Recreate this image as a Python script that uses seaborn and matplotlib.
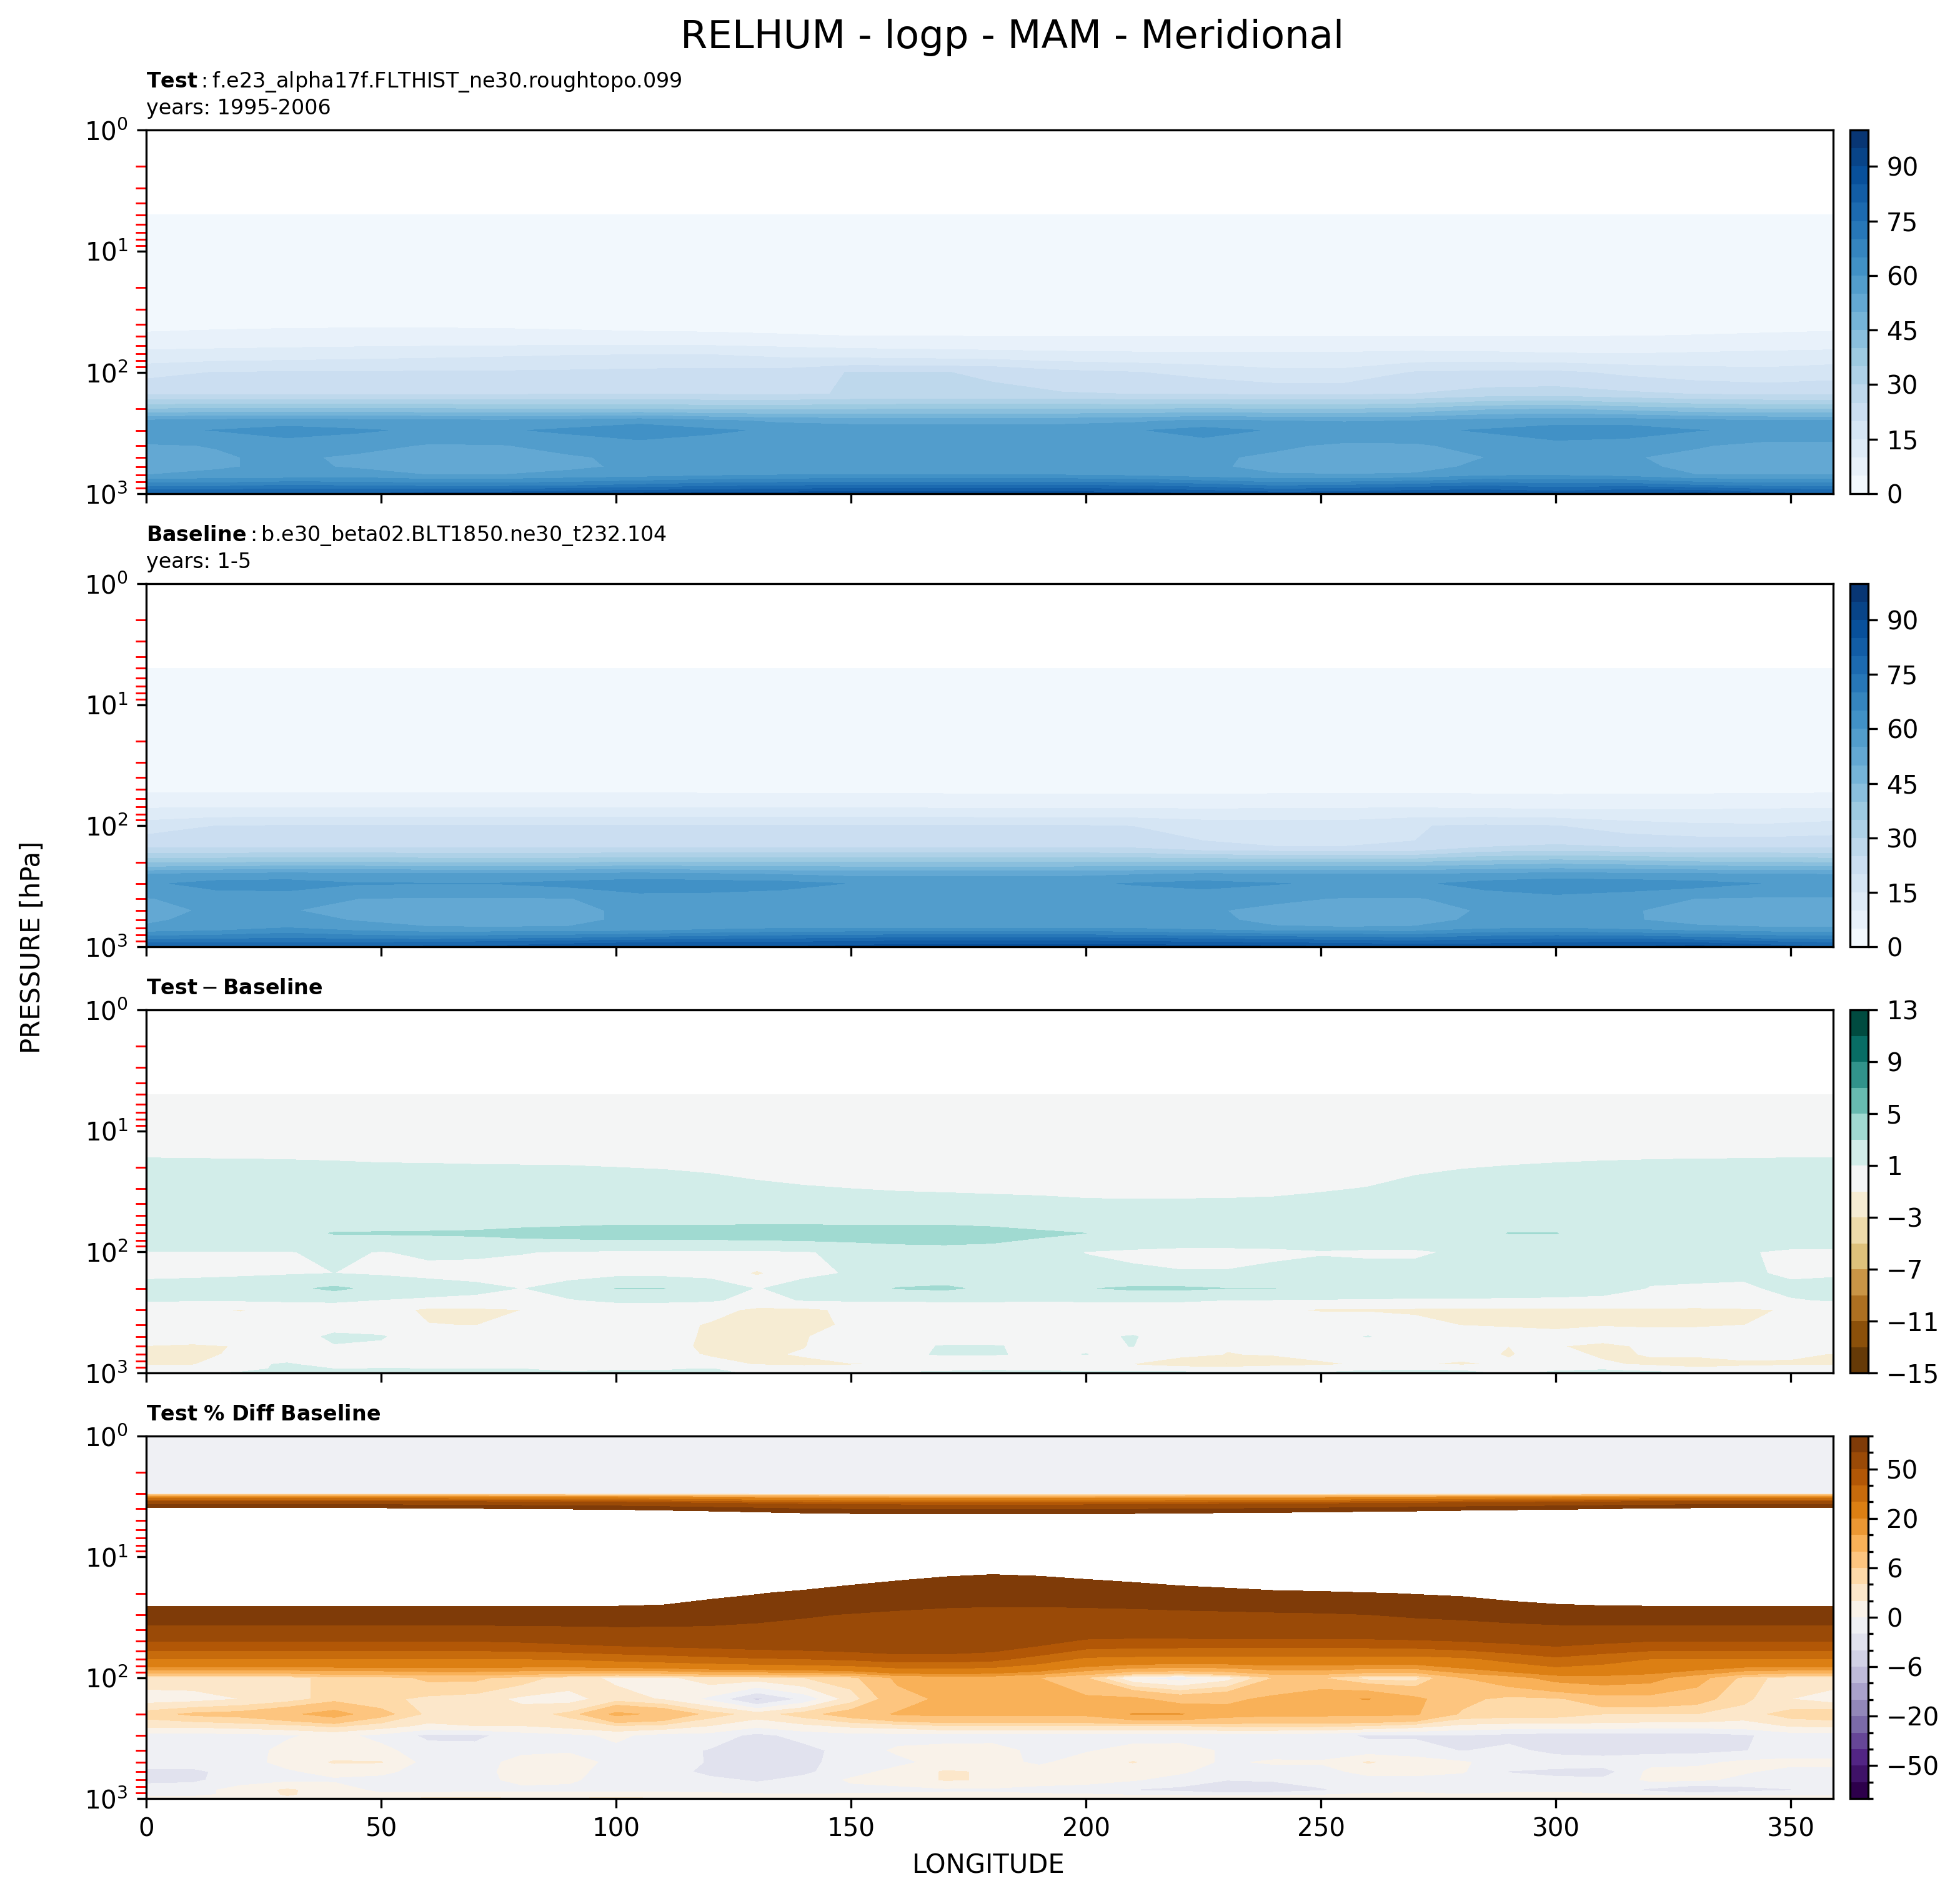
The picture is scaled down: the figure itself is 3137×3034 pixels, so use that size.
import numpy as np
import matplotlib
matplotlib.use("Agg")
import matplotlib.pyplot as plt
import matplotlib.colors as mcolors
from matplotlib.ticker import LogLocator, NullFormatter
import seaborn as sns

# pressure levels [hPa], the upper ones are empty in the first three panels
plev_full = [1, 2, 3, 5, 7, 10, 20, 30, 50, 70, 100, 150, 200, 250, 300, 400, 500, 600, 700, 850, 925, 1000]
plev = [5, 7, 10, 20, 30, 50, 70, 100, 150, 200, 250, 300, 400, 500, 600, 700, 850, 925, 1000]

lon_coarse = [0, 15, 30, 45, 60, 75, 90, 105, 120, 135, 150, 165, 180, 195, 210, 225, 240, 255, 270, 285, 300, 315, 330, 345, 359]
lon_fine = [0, 10, 20, 30, 40, 50, 60, 70, 80, 90, 100, 110, 120, 130, 140, 150, 160, 170, 180, 190, 200, 210, 220, 230, 240, 250, 260, 270, 280, 290, 300, 310, 320, 330, 340, 350, 359]

# relative humidity (top to bottom)
test_rh = [
    [1, 1, 1, 1, 1, 1, 1, 1, 1, 1, 1, 1, 1, 1, 1, 1, 1, 1, 1, 1, 1, 1, 1, 1, 1],
    [1.2, 1.2, 1.2, 1.2, 1.2, 1.2, 1.2, 1.2, 1.2, 1.2, 1.2, 1.2, 1.2, 1.2, 1.2, 1.2, 1.2, 1.2, 1.2, 1.2, 1.2, 1.2, 1.2, 1.2, 1.2],
    [1.5, 1.5, 1.5, 1.5, 1.5, 1.5, 1.5, 1.5, 1.5, 1.5, 1.5, 1.5, 1.5, 1.5, 1.5, 1.5, 1.5, 1.5, 1.5, 1.5, 1.5, 1.5, 1.5, 1.5, 1.5],
    [2.5, 2.5, 2.5, 2.5, 2.5, 2.5, 2.5, 2.5, 2.5, 2.5, 2.5, 2.5, 2.5, 2.5, 2.5, 2.5, 2.5, 2.5, 2.5, 2.5, 2.5, 2.5, 2.5, 2.5, 2.5],
    [3.2, 3.2, 3.2, 3.2, 3.2, 3.2, 3.2, 3.2, 3.2, 3.2, 3.2, 3.2, 3.2, 3.2, 3.2, 3.2, 3.2, 3.2, 3.2, 3.2, 3.2, 3.2, 3.2, 3.2, 3.2],
    [5.4, 5.7, 5.9, 6, 6, 5.9, 5.7, 5.5, 5.4, 5.2, 5.0, 4.95, 4.9, 4.85, 4.85, 4.85, 4.85, 4.85, 4.9, 4.9, 4.9, 4.95, 5.1, 5.3, 5.5],
    [11.5, 12, 12.5, 13, 13.5, 14, 14.5, 14.7, 14.7, 13.5, 12.5, 12, 11.5, 11, 10.7, 10.6, 10.6, 10.6, 11, 10.8, 10.3, 10, 10.5, 11, 11.5],
    [18.5, 20.2, 20.4, 20.5, 20.6, 20.7, 21, 21.5, 21.8, 22, 25.3, 25.3, 24.6, 21.5, 20.3, 18.5, 16.5, 16.5, 20.4, 21, 21, 19, 17.5, 16.8, 18],
    [24.3, 24.4, 24.5, 24.4, 24.5, 24.5, 24.6, 24.6, 24.6, 24.3, 25.3, 25.6, 25.6, 25.4, 24.9, 24.7, 24.2, 24.2, 25, 27, 27.5, 26, 24.8, 24, 24],
    [40, 41, 41, 41, 40.5, 40, 39.5, 40, 39, 39, 39.5, 40, 40, 40, 40, 40.5, 40, 40, 41, 44, 45, 43, 41, 40, 40],
    [56, 57, 57.5, 57, 56.5, 56, 57, 58.5, 56, 54, 53, 53, 53, 53, 54, 56, 55, 54.5, 55, 57, 58, 58, 56.5, 55.5, 55.5],
    [59, 60.2, 62, 60.6, 59.2, 59.3, 61, 63, 61, 59, 58.5, 58.5, 58.5, 58.5, 59.5, 62, 59.5, 59, 59, 60.5, 62.5, 62.5, 60.2, 59, 59],
    [54.5, 55.2, 57.7, 57, 54.5, 54.7, 56.5, 58, 57, 57, 57, 57, 57, 57, 57, 57.5, 56, 54, 54.2, 57, 58.5, 57.5, 55.5, 53.3, 53.5],
    [53, 54.5, 56, 54, 53, 53, 54.5, 56, 56, 56, 56, 56, 56, 56, 56, 56, 54, 53, 53, 55, 56.5, 55.5, 53.5, 53, 53],
    [53, 54.5, 56, 54.5, 53, 53, 54, 56, 56, 56, 56, 56, 56, 56, 56, 56, 53.5, 53, 53.5, 56, 57, 56, 54, 53, 53],
    [55, 56, 56, 57, 55, 55, 56.5, 57.5, 59, 60, 60, 60, 60, 60, 59, 57, 55.5, 55.2, 55.5, 59, 59.5, 58, 55, 55, 55],
    [68, 68, 70, 69, 68, 68, 69, 71, 73, 74, 75, 75, 75, 75, 74, 72, 69, 70, 72, 74, 72, 73, 70, 68, 68],
    [75, 75, 76, 76, 76, 76, 77, 79, 80, 81, 82, 82, 82, 82, 81, 79, 76, 77, 79, 80, 78, 80, 79, 76, 75],
    [78, 78, 79, 80, 82, 83, 85, 86, 88, 88, 89, 89, 89, 89, 87, 85, 83, 83, 85, 84, 83, 84, 87, 82, 78],
]

baseline_rh = [
    [1, 1, 1, 1, 1, 1, 1, 1, 1, 1, 1, 1, 1, 1, 1, 1, 1, 1, 1, 1, 1, 1, 1, 1, 1],
    [1.2, 1.2, 1.2, 1.2, 1.2, 1.2, 1.2, 1.2, 1.2, 1.2, 1.2, 1.2, 1.2, 1.2, 1.2, 1.2, 1.2, 1.2, 1.2, 1.2, 1.2, 1.2, 1.2, 1.2, 1.2],
    [1.4, 1.4, 1.4, 1.4, 1.4, 1.4, 1.4, 1.4, 1.4, 1.4, 1.4, 1.4, 1.4, 1.4, 1.4, 1.4, 1.4, 1.4, 1.4, 1.4, 1.4, 1.4, 1.4, 1.4, 1.4],
    [2, 2, 2, 2, 2, 2, 2, 2, 2, 2, 2, 2, 2, 2, 2, 2, 2, 2, 2, 2, 2, 2, 2, 2, 2],
    [2.5, 2.5, 2.5, 2.5, 2.5, 2.5, 2.5, 2.5, 2.5, 2.5, 2.5, 2.5, 2.5, 2.5, 2.5, 2.5, 2.5, 2.5, 2.5, 2.5, 2.5, 2.5, 2.5, 2.5, 2.5],
    [4, 4, 4, 4, 4, 4, 4, 4, 3.9, 3.9, 3.8, 3.8, 3.7, 3.7, 3.7, 3.7, 3.8, 3.8, 3.8, 3.8, 3.7, 3.8, 3.8, 3.9, 4],
    [9.6, 9.7, 9.8, 9.8, 9.8, 9.8, 9.8, 9.8, 9.8, 9.7, 9.6, 9.5, 9.4, 9.3, 9.3, 9.3, 9.4, 9.6, 9.6, 9.3, 8.9, 8.9, 9.2, 9.5, 9.6],
    [17.5, 20, 20.2, 20.3, 20.3, 20.3, 20.3, 20.3, 20.4, 20.4, 20.4, 20.4, 20.3, 20.3, 19.9, 18, 18, 17.5, 19.8, 20.6, 20.1, 17.5, 16, 15.7, 17],
    [24.3, 24.5, 24.5, 24.5, 24.5, 24.5, 24.5, 24.5, 24.5, 24.5, 24.5, 24.5, 24.5, 24.5, 24.2, 21, 20.1, 20.1, 20.1, 25, 25.8, 25, 24.5, 24.4, 24.4],
    [39, 39.5, 40, 40, 39.5, 39.5, 39.5, 40, 40, 40, 40, 40, 40, 40, 40, 40, 40, 40, 40, 42, 43, 42, 40.5, 40, 39.5],
    [54.8, 56, 56.5, 56, 56, 56, 56, 56.5, 55.5, 54.5, 53.5, 53.5, 53.5, 53.5, 54.5, 55.5, 55, 55, 55, 55.5, 56.5, 56, 55.5, 55, 54.8],
    [59, 62, 62.5, 60.3, 60.2, 60.2, 61.5, 63, 62.5, 62, 59.8, 59, 59, 59, 60.3, 61.8, 60.3, 59, 59, 62, 63.5, 63, 61.8, 59.8, 59],
    [54.7, 57, 57, 55, 54.5, 54.6, 54.8, 58, 58, 57, 57, 57, 57, 57, 57, 56.5, 55.8, 54.7, 54.6, 57, 58.5, 57, 54.9, 54.4, 54.4],
    [54, 55.5, 55.2, 54, 53.5, 53, 54, 56, 56, 56, 56, 56, 56, 56, 56, 55.5, 54, 53, 53, 55.5, 56, 55.3, 54, 53, 53],
    [54.5, 56, 56.5, 54.7, 53, 53, 54, 56, 56, 56, 56, 56, 56, 56, 56, 56, 54, 53, 53.5, 56, 58, 55.5, 53.5, 53, 53],
    [55.5, 57, 60.3, 57, 55.5, 55.3, 55.3, 55.5, 58, 59.5, 59.8, 59.8, 59.8, 59.8, 59.5, 57.5, 55.5, 55.3, 55.5, 59, 60, 58, 56, 55.3, 55.2],
    [68, 69, 70, 69, 68, 69, 70, 72, 73, 74, 75, 76, 76, 76, 75, 74, 73, 72, 71, 73, 74, 74, 72, 69, 68],
    [75, 75, 75, 75, 76, 77, 79, 80, 81, 81, 82, 83, 83, 83, 82, 81, 80, 79, 78, 79, 80, 81, 80, 77, 75],
    [79, 78, 78, 78, 81, 81, 83, 85, 85, 85, 87, 88, 88, 88, 88, 88, 87, 85, 84, 83, 83, 85, 88, 83, 79],
]

# Test - Baseline
diff_rh = [
    [0.3, 0.3, 0.3, 0.3, 0.3, 0.3, 0.3, 0.3, 0.3, 0.3, 0.3, 0.3, 0.3, 0.3, 0.3, 0.3, 0.3, 0.3, 0.3, 0.3, 0.3, 0.3, 0.3, 0.3, 0.3, 0.3, 0.3, 0.3, 0.3, 0.3, 0.3, 0.3, 0.3, 0.3, 0.3, 0.3, 0.3],
    [0.4, 0.4, 0.4, 0.4, 0.4, 0.4, 0.4, 0.4, 0.4, 0.4, 0.4, 0.4, 0.4, 0.4, 0.4, 0.4, 0.4, 0.4, 0.4, 0.4, 0.4, 0.4, 0.4, 0.4, 0.4, 0.4, 0.4, 0.4, 0.4, 0.4, 0.4, 0.4, 0.4, 0.4, 0.4, 0.4, 0.4],
    [0.6, 0.6, 0.6, 0.6, 0.6, 0.6, 0.6, 0.6, 0.6, 0.6, 0.6, 0.6, 0.6, 0.6, 0.6, 0.6, 0.6, 0.6, 0.6, 0.6, 0.6, 0.6, 0.6, 0.6, 0.6, 0.6, 0.6, 0.6, 0.6, 0.6, 0.6, 0.6, 0.6, 0.6, 0.6, 0.6, 0.6],
    [1.2, 1.18, 1.17, 1.15, 1.12, 1.08, 1.07, 1.05, 1.04, 1.03, 1.0, .98, .95, .9, .87, .85, .82, .8, .75, .72, .7, .7, .7, .72, .75, .78, .82, .9, .97, 1.03, 1.08, 1.12, 1.15, 1.17, 1.18, 1.2, 1.2],
    [1.6, 1.6, 1.6, 1.55, 1.5, 1.5, 1.5, 1.45, 1.4, 1.35, 1.3, 1.22, 1.15, 1.08, 1.03, 1.0, .95, .92, .9, .89, .87, .85, .86, .87, .9, .95, 1.02, 1.2, 1.4, 1.5, 1.55, 1.6, 1.6, 1.6, 1.6, 1.6, 1.6],
    [1.5, 1.5, 1.5, 1.5, 1.6, 1.7, 1.7, 1.7, 1.8, 1.9, 2, 2, 2, 2, 1.9, 1.7, 1.6, 1.6, 1.5, 1.4, 1.3, 1.3, 1.3, 1.3, 1.3, 1.4, 1.4, 1.5, 1.5, 1.6, 1.6, 1.6, 1.6, 1.5, 1.5, 1.5, 1.5],
    [1.9, 2, 2.1, 2.3, 3.1, 3.15, 3.2, 3.3, 3.6, 3.8, 4, 4, 4, 4.1, 4.2, 4.3, 4.4, 4.4, 4, 3.4, 3, 2.6, 2.2, 2.2, 2.2, 2.2, 2.2, 2.2, 2.2, 3.05, 3.05, 2.2, 2.2, 2.1, 2, 1.9, 1.9],
    [.95, .95, .95, .95, 1.2, .95, 1.2, 1.2, 1.05, .9, .8, .75, .75, .75, .9, 1.3, 1.8, 2, 2, 1.6, .95, .7, .6, .6, .7, .9, .8, .8, 1.2, 1.6, 1.6, 1.6, 1.5, 1.5, 1.1, .8, .8],
    [.7, .7, .75, .85, 1.0, .8, .6, .5, .5, .5, .5, .5, .5, -1.3, .7, 1.1, 1.7, 1.9, 1.9, 1.8, 1.5, 1.3, 1.1, 1.1, 1.4, 1.5, 1.5, 1.5, 1.7, 1.8, 1.8, 1.6, 1.2, 1.5, 1.2, .8, .8],
    [1.5, 1.7, 2, 2.5, 3.4, 2.4, 1.8, 1.4, .95, 1.6, 3.05, 3.05, 2, .9, 1.6, 2.2, 3.1, 3.3, 2.6, 2.4, 2.9, 3.3, 3.3, 3.02, 3.02, 2.4, 2.2, 2, 2, 1.9, 1.8, 1.5, .95, .7, .8, 1.3, 1.6],
    [1.15, 1.15, 1.2, 1.3, 1.3, .95, .7, .6, .6, .9, 1.3, 1.3, 1.2, .5, 1.1, 1.2, 1.2, 1.2, 1.2, 1.15, 1.2, 1.2, 1.25, 1.0, .95, .9, .85, .8, .8, .75, .7, .65, .6, .4, .5, .9, 1.1],
    [0, -.7, -1.1, -.5, 0, -.3, -1.3, -1.3, -1.0, -.2, 0, 0, -.3, -1.4, -1.4, -.6, -.2, 0, 0, 0, 0, 0, -.2, -.4, -.8, -1.15, -1.15, -1.25, -1.4, -1.3, -1.3, -1.3, -1.3, -1.35, -1.2, -.9, 0],
    [0, 0, -.3, 0, .4, .3, -.95, -1.05, -.3, 0, 0, -.3, -1.2, -1.5, -1.4, -.8, -.2, 0, 0, 0, .2, .2, 0, 0, 0, 0, 0, -.5, -1.05, -1.2, -1.3, -1.1, -1.3, -1.25, -1.02, -.5, 0],
    [0, 0, 0, .2, 1.3, 1.1, .2, 0, 0, 0, 0, -.3, -1.3, -1.4, -1.1, -.3, 0, 0, 0, .1, .7, 1.1, .2, 0, 0, .5, 1.05, .3, 0, -.2, -.5, -.3, 0, 0, 0, .1, .1],
    [-1.05, -1.3, -.9, 0, .9, .8, 0, 0, 0, 0, 0, -.5, -1.3, -1.4, -1.05, -.2, .6, 1.1, 1.1, .7, .8, 1.02, 0, -.9, -.5, 0, 0, 0, 0, -1, -.9, -1.4, -.7, 0, 0, 0, 0],
    [-1.3, -1.3, -.8, 0, 0, 0, 0, 0, 0, 0, 0, -.3, -1.2, -1.2, -.9, -.2, .6, 1.2, 1.1, .8, 1.02, .5, -.4, -1.05, -.9, -.5, 0, 0, -.6, -1.1, -.4, -1.3, -.9, -.3, -.3, -.8, -1.05],
    [-1.2, -1.1, .6, 1.2, .3, 0, 0, -.2, -.3, -.2, 0, -.1, -.3, -1.1, -1.3, -1.1, -1.02, -.7, -.2, 0, -.5, -1.1, -2.5, -3.2, -1.8, -1.3, -.8, -.9, -1.2, -.8, -.2, -.7, -1.3, -3.1, -1.5, -1.2, -1.2],
    [-.3, -.1, .7, 1.2, 1.0, 1.1, 1.05, 1.05, 1.0, .8, .9, .9, 1.05, .5, 0, 0, .2, .6, .8, .7, .6, .6, .6, .5, .5, .5, .8, .8, .8, .2, .8, .9, .5, .2, 0, 0, -.2],
    [.8, .9, 1.1, 1.4, 1.3, 1.3, 1.3, 1.3, 1.2, 1.1, 1.2, 1.2, 1.3, .8, .8, .9, 1.2, 1.3, 1.4, 1.3, 1.3, 1.3, 1.2, 1.1, 1.1, 1.1, 1.3, 1.4, 1.3, .8, 1.2, 1.4, 1.3, 1.1, 1, .8, .8],
]

# Test % Diff Baseline
pct_diff = [
    [-1, -1, -1, -1, -1, -1, -1, -1, -1, -1, -1, -1, -1, -1, -1, -1, -1, -1, -1, -1, -1, -1, -1, -1, -1, -1, -1, -1, -1, -1, -1, -1, -1, -1, -1, -1, -1],
    [-1, -1, -1, -1, -1, -1, -1, -1, -1, -1, -1, -1, -1, -1, -1, -1, -1, -1, -1, -1, -1, -1, -1, -1, -1, -1, -1, -1, -1, -1, -1, -1, -1, -1, -1, -1, -1],
    [-.2, -.2, -.2, -.2, -.2, -.2, -.2, -.2, -.2, -.2, -.2, -.2, -.2, -.2, -.2, -.2, -.2, -.2, -.2, -.2, -.2, -.2, -.2, -.2, -.2, -.2, -.2, -.2, -.2, -.2, -.2, -.2, -.2, -.2, -.2, -.2, -.2],
    [215, 215, 215, 215, 215, 215, 210, 205, 200, 195, 190, 180, 170, 160, 150, 145, 142, 140, 140, 140, 142, 145, 148, 152, 155, 160, 165, 170, 178, 185, 190, 200, 210, 215, 215, 215, 215],
    [300, 300, 300, 300, 300, 300, 300, 300, 300, 290, 280, 260, 240, 220, 200, 180, 160, 150, 145, 150, 160, 170, 180, 190, 200, 210, 220, 240, 260, 280, 300, 300, 300, 300, 300, 300, 300],
    [200, 200, 200, 200, 200, 200, 200, 200, 190, 180, 170, 160, 150, 140, 130, 120, 115, 112, 110, 112, 115, 120, 125, 130, 135, 140, 150, 160, 170, 180, 190, 200, 200, 200, 200, 200, 200],
    [115, 115, 115, 115, 115, 115, 115, 115, 115, 115, 115, 113, 105, 101, 96, 92, 89, 86, 85, 85, 87, 88, 91, 93, 96, 97, 99, 101, 103, 108, 113, 115, 115, 115, 115, 115, 115],
    [88, 88, 88, 88, 88, 88, 88, 88, 88, 88, 88, 87, 85, 81, 77, 74, 71, 69, 68, 68, 68, 69, 70, 71, 72, 73, 75, 78, 80, 83, 85, 87, 88, 88, 88, 88, 88],
    [49.5, 49.5, 49.5, 49.5, 49.5, 49.5, 49.5, 50, 51, 53, 55, 56, 57, 58, 59, 60, 61, 61, 59, 54, 48, 47, 47, 47, 47, 47, 47, 48, 50, 52, 54, 52, 50, 49.5, 49.5, 49.5, 49.5],
    [30, 30, 30, 30, 30, 30, 30, 30, 30, 31, 33, 35, 37, 39, 40, 42, 45, 45, 43, 36, 28, 27, 26, 26, 26, 26, 26, 26, 28, 33, 38, 34, 30, 30, 30, 30, 30],
    [3, 3, 3, 3, 5, 5, 6.5, 6.5, 5, 3, 1.5, 1.5, 3, 3, 4, 5, 11, 12, 12, 10, 6, 0, -1, 1, 6, 6, 3, 3, 10, 13, 17, 18, 17, 12, 5, 3, 3],
    [1, 1.2, 2, 3, 5, 4.5, 3.5, 3, 1.5, 1.2, 3, 1.8, -.5, -4.5, -1.5, 3, 8, 11, 12, 11, 11, 11, 8, 9, 11, 14, 15.2, 11, 7, 5, 5.5, 8, 8, 7, 4.5, 2, 1],
    [5, 6.5, 7, 9, 12, 7, 3.5, 3, 3, 4.5, 11, 9, 5, 3, 5, 7.5, 10.5, 11, 11, 11, 11, 15.3, 15.3, 12, 11, 11, 11, 10.5, 5.5, 5, 5, 4, 4, 4, 3, 5, 5.5],
    [2.5, 2.5, 3, 3.5, 4.5, 3, 1.5, 2, 2, 2.8, 4, 3.5, 2, .5, 1.5, 2.5, 3, 4, 4, 4, 4, 4, 4, 4.5, 4.5, 4.5, 4, 3, 1.5, 1.2, 1.2, 1.2, 1, 1, 1, 2.2, 2.5],
    [-.7, -.7, -.7, -.2, .5, -.5, -2.5, -2.5, -1, -.5, .4, -.7, -.8, -2.6, -1.2, -.8, -.7, -.7, -.7, -.8, -.8, -.8, -.8, -.8, -.9, -1.2, -2.3, -2.3, -2.1, -2.6, -3, -3, -3, -3, -2.3, -1, -1],
    [-1, -1, -.8, .5, .7, .5, -1, -1.2, -.5, -.2, -.5, -1, -2.2, -3, -2.8, -1, .3, .6, .7, -.5, -.2, .7, .8, -.3, -1, -1, -1, -1, -2.1, -1.5, -2.6, -3, -2.6, -2.5, -2.1, -1, -1],
    [-1, -1, -.8, .6, 2.2, 2.1, -.8, -1, .8, .8, -.5, -.8, -2.2, -3.2, -2.6, -1, -.5, .7, .8, -.4, 1, 2.1, .8, -.3, .3, .2, 2.2, .9, .2, -.8, -.8, -.8, -.7, -.5, .4, .5, .5],
    [-2.5, -2.5, -1, -.3, .7, .5, -1, -.7, .8, .7, -1, -1, -2.6, -3.2, -2.4, -.8, .7, 2.2, 1.8, 1, 1, .8, .3, -1, -1, -.8, .7, .8, .2, -2.1, -2.6, -3, .5, .7, .2, -.6, -.5],
    [-2.6, -2.4, -.9, -.5, -.3, -.7, -1, -.7, .6, .3, -.9, -1, -1.5, -2.3, -1.4, .3, .7, 2.2, 1.8, .8, .6, .2, -.8, -1.9, -1.7, -1, -.8, -.8, -1, -1.2, -1.5, -1.5, .4, .4, -.5, -1, -1],
    [-.9, -.8, .8, 2.3, 1, -.5, -.6, -.6, -.6, -.5, -.5, -.5, -.6, -.7, -.7, -.6, -.5, -.4, -.4, -.6, -.8, -2.1, -2.6, -4.2, -3.5, -2.3, -.8, -.8, -2.1, -.7, -.6, -.8, -2.5, -4.1, -2.8, -2.1, -.9],
    [-1, -.8, .8, 2.2, 1.2, .3, .5, .7, .7, .6, .8, .6, .4, .2, .1, .2, .3, .4, .4, .2, .1, -.2, -.4, -.6, -.5, -.2, .3, .6, .2, .5, .5, .3, -.3, -.6, -.4, -.3, -.5],
    [1, 1, 1.2, 1.5, 1.2, 2.2, 2.3, 2.3, 2.2, 2.2, 2.3, 2.2, 1.2, 1, .9, .9, 1, 1.2, 1.2, 1.2, 1.4, 1.5, 1.4, 1.2, 1.2, 1.6, 1.8, 1.6, 1.3, 1.3, 1.6, 1.8, 1.5, 1.2, 1.1, 1, 1],
]

# colour levels of each row of the figure
rh_levels = [0, 5, 10, 15, 20, 25, 30, 35, 40, 45, 50, 55, 60, 65, 70, 75, 80, 85, 90, 95, 100]
rh_ticks = [0, 15, 30, 45, 60, 75, 90]
diff_levels = [-15, -13, -11, -9, -7, -5, -3, -1, 1, 3, 5, 7, 9, 11, 13]
diff_ticks = [-15, -11, -7, -3, 1, 5, 9, 13]
pct_levels = [-100, -75, -50, -40, -30, -20, -15, -10, -6, -4, -2, 0, 2, 4, 6, 10, 15, 20, 30, 40, 50, 75, 100]
pct_ticks = [-50, -20, -6, 0, 6, 20, 50]

sns.set_theme(style="ticks", rc={
    "axes.edgecolor": "black", "axes.linewidth": 0.8, "axes.labelcolor": "black", "text.color": "black",
    "xtick.color": "black", "ytick.color": "black", "xtick.major.size": 3.5, "ytick.major.size": 3.5,
    "xtick.major.width": 0.8, "ytick.major.width": 0.8, "ytick.minor.size": 2, "ytick.minor.width": 0.8,
    "xtick.labelsize": 9.7, "ytick.labelsize": 9.7,
})
plt.rcParams["font.family"] = ["DejaVu Sans"]

W, H = 3137, 3034
fig = plt.figure(figsize=(W / 300, H / 300), dpi=300)


def add_panel(top_px, bottom_px, lons, levs, values, levels, cmap, norm, ticks, title):
    ax = fig.add_axes([234 / W, 1 - bottom_px / H, (2934 - 234) / W, (bottom_px - top_px) / H])
    cax = fig.add_axes([2961 / W, 1 - bottom_px / H, 29 / W, (bottom_px - top_px) / H])
    cf = ax.contourf(lons, levs, np.array(values, dtype=float), levels=levels, cmap=cmap, norm=norm)
    ax.set_yscale("log")
    ax.set_ylim(1000, 1)
    ax.set_xlim(0, 359)
    ax.set_xticks([0, 50, 100, 150, 200, 250, 300, 350])
    ax.yaxis.set_minor_locator(LogLocator(base=10, subs=[2, 3, 4, 5, 6, 7, 8, 9], numticks=12))
    ax.yaxis.set_minor_formatter(NullFormatter())
    ax.tick_params(axis="y", which="minor", color="red", length=4, width=0.7)
    ax.set_title(title, loc="left", fontsize=8, pad=6, linespacing=1.25)
    cb = fig.colorbar(cf, cax=cax, ticks=ticks)
    cb.ax.tick_params(labelsize=9.7)
    cb.set_ticklabels([str(t).replace("-", "\u2212") for t in ticks])
    return ax, cb


blues = sns.color_palette("Blues", as_cmap=True)
brbg = sns.color_palette("BrBG", as_cmap=True)
puor = sns.color_palette("PuOr_r", as_cmap=True)
rh_norm = mcolors.Normalize(vmin=0, vmax=100)

ax1, _ = add_panel(208, 790, lon_coarse, plev, test_rh, rh_levels, blues, rh_norm, rh_ticks,
                   "$\\mathbf{Test}:$f.e23_alpha17f.FLTHIST_ne30.roughtopo.099\nyears: 1995-2006")
ax2, _ = add_panel(934, 1515, lon_coarse, plev, baseline_rh, rh_levels, blues, rh_norm, rh_ticks,
                   "$\\mathbf{Baseline}:$b.e30_beta02.BLT1850.ne30_t232.104\nyears: 1-5")
ax3, _ = add_panel(1616, 2197, lon_fine, plev, diff_rh, diff_levels, brbg,
                   mcolors.TwoSlopeNorm(vmin=-15, vcenter=0, vmax=13), diff_ticks,
                   "$\\mathbf{Test} - \\mathbf{Baseline}$")
ax4, cb4 = add_panel(2298, 2878, lon_fine, plev_full, pct_diff, pct_levels, puor,
                     mcolors.BoundaryNorm(pct_levels, 256), pct_ticks,
                     "$\\mathbf{Test}$ $\\mathbf{\\%\\ Diff}$ $\\mathbf{Baseline}$")
cb4.ax.set_yticks(pct_levels, minor=True)

for ax in [ax1, ax2, ax3]:
    ax.set_xticklabels([])

fig.text(1620 / W, 1 - 60 / H, "RELHUM - logp - MAM - Meridional", ha="center", va="center", fontsize=15)
fig.text(1582 / W, 1 - 2986 / H, "LONGITUDE", ha="center", va="center", fontsize=10)
fig.text(52 / W, 1 - 1516 / H, "PRESSURE [hPa]", rotation=90, ha="center", va="center", fontsize=10)

fig.savefig("out.png", dpi=300)
